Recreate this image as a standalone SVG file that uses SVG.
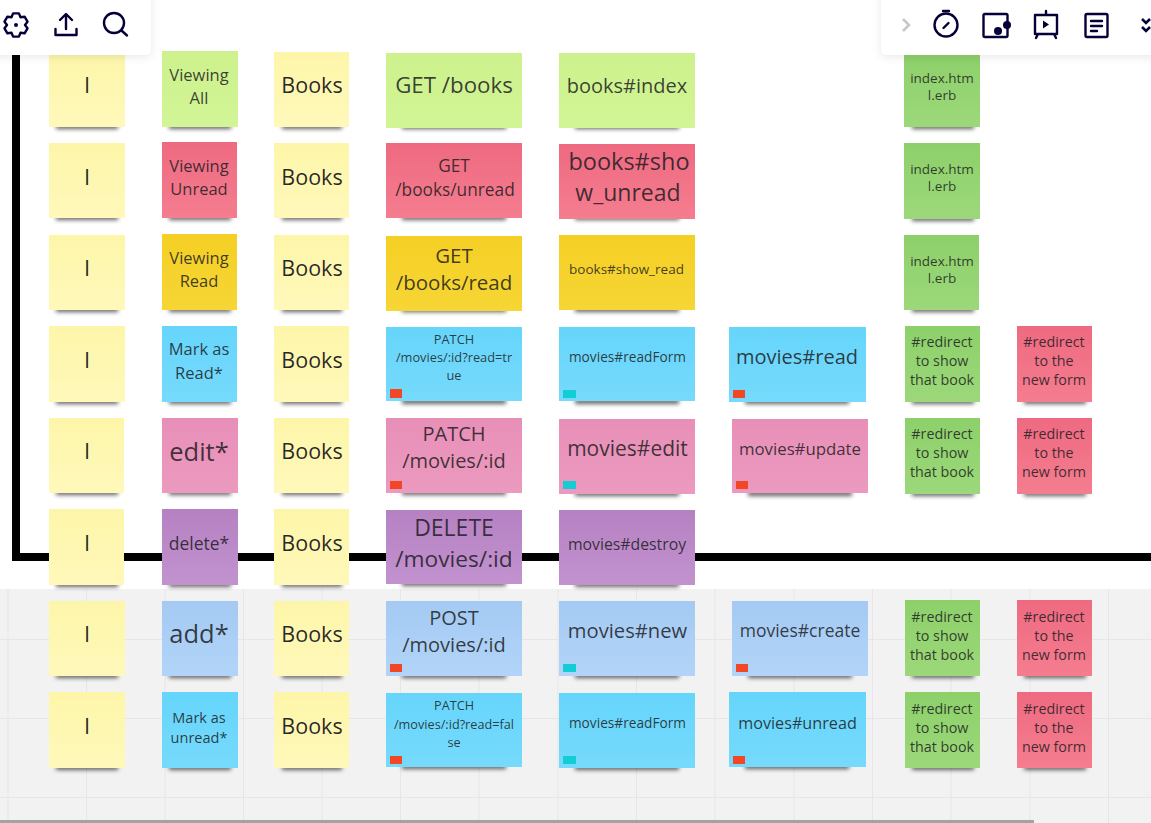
<svg xmlns="http://www.w3.org/2000/svg" width="1151" height="823" viewBox="0 0 1151 823">
<style>
text{font-family:"Open Sans","Noto Sans","DejaVu Sans",sans-serif;fill:#1a1a20;fill-opacity:.84;text-anchor:middle}
.d{fill-opacity:.95}
.sh{fill:#000;fill-opacity:.62;filter:url(#b)}
.y{fill:url(#gy)}.lg{fill:url(#glg)}.r{fill:url(#gr)}.o{fill:url(#go)}.c{fill:url(#gc)}.p{fill:url(#gp)}.v{fill:url(#gv)}.bl{fill:url(#gbl)}.g{fill:url(#gg)}
.rt{fill:#f24726}.tt{fill:#12cdd4}
.i{fill:none;stroke:#050038;stroke-width:2.4;stroke-linecap:round;stroke-linejoin:round}
.gl{stroke:#e6e6e6;stroke-width:1}
</style>
<defs>
<filter id="b" x="-20%" y="-300%" width="140%" height="700%"><feGaussianBlur stdDeviation="2"/></filter>
<filter id="ps" x="-10%" y="-30%" width="120%" height="170%"><feDropShadow dx="0" dy="2" stdDeviation="5" flood-color="#000" flood-opacity=".09"/></filter>
<linearGradient id="gy" x1="0" y1="0" x2="0" y2="1"><stop offset="0" stop-color="#fdf6a9"/><stop offset="1" stop-color="#fff8ba"/></linearGradient>
<linearGradient id="glg" x1="0" y1="0" x2="0" y2="1"><stop offset="0" stop-color="#cdf18c"/><stop offset="1" stop-color="#d2f596"/></linearGradient>
<linearGradient id="gr" x1="0" y1="0" x2="0" y2="1"><stop offset="0" stop-color="#ee6a80"/><stop offset="1" stop-color="#f57d90"/></linearGradient>
<linearGradient id="go" x1="0" y1="0" x2="0" y2="1"><stop offset="0" stop-color="#f5cf24"/><stop offset="1" stop-color="#f6d635"/></linearGradient>
<linearGradient id="gc" x1="0" y1="0" x2="0" y2="1"><stop offset="0" stop-color="#66d5fb"/><stop offset="1" stop-color="#76dafc"/></linearGradient>
<linearGradient id="gp" x1="0" y1="0" x2="0" y2="1"><stop offset="0" stop-color="#e88fb8"/><stop offset="1" stop-color="#ec9abf"/></linearGradient>
<linearGradient id="gv" x1="0" y1="0" x2="0" y2="1"><stop offset="0" stop-color="#b681c2"/><stop offset="1" stop-color="#c292cf"/></linearGradient>
<linearGradient id="gbl" x1="0" y1="0" x2="0" y2="1"><stop offset="0" stop-color="#a4caf3"/><stop offset="1" stop-color="#b2d4f8"/></linearGradient>
<linearGradient id="gg" x1="0" y1="0" x2="0" y2="1"><stop offset="0" stop-color="#8dd06a"/><stop offset="1" stop-color="#9cd87a"/></linearGradient>
</defs>

<rect width="1151" height="823" fill="#fff"/>
<g id="canvas-grid">
<rect x="0" y="589" width="1151" height="234" fill="#f2f2f2"/>
<path class="gl" d="M8 589V823M86.500 589V823M165 589V823M243.500 589V823M322 589V823M400.500 589V823M479 589V823M558 589V823M636.500 589V823M715 589V823M794 589V823M872.500 589V823M951 589V823M1030 589V823M1108.500 589V823M0 639.500H1151M0 718.500H1151M0 797.500H1151"/>
<rect x="0" y="820" width="1034" height="3" fill="#a3a3a3"/>
</g>
<g id="connectors">
<path d="M16 50V557H1151" fill="none" stroke="#000" stroke-width="8"/>
</g>

<g id="r1">
<g id="r1c1"><rect class="sh" x="56" y="124" width="62" height="5"/><rect class="y" x="49" y="52" width="76" height="75"/><text class="d" x="87" y="93" font-size="22">I</text></g>
<g id="r1c2"><rect class="sh" x="169" y="124" width="62" height="5"/><rect class="lg" x="162" y="51" width="76" height="76"/><text x="199" y="81" font-size="16.500">Viewing</text><text x="199" y="104" font-size="16.500">All</text></g>
<g id="r1c3"><rect class="sh" x="282" y="124" width="60" height="5"/><rect class="y" x="274" y="52" width="75" height="75"/><text class="d" x="312" y="93" font-size="21.500">Books</text></g>
<g id="r1c4"><rect class="sh" x="402" y="124" width="104" height="5"/><rect class="lg" x="386" y="53" width="136" height="75"/><text x="454" y="93" font-size="22.300">GET /books</text></g>
<g id="r1c5"><rect class="sh" x="575" y="124" width="104" height="5"/><rect class="lg" x="559" y="53" width="136" height="75"/><text x="627" y="93" font-size="20">books#index</text></g>
<g id="r1c7"><rect class="sh" x="912" y="124" width="62" height="5"/><rect class="g" x="904" y="52" width="76" height="75"/><text x="942" y="83" font-size="13.500">index.htm</text><text x="942" y="100" font-size="13.500">l.erb</text></g>
</g>

<g id="r2">
<g id="r2c1"><rect class="sh" x="56" y="215" width="62" height="5"/><rect class="y" x="49" y="143" width="76" height="75"/><text class="d" x="87" y="185" font-size="22">I</text></g>
<g id="r2c2"><rect class="sh" x="169" y="215" width="62" height="5"/><rect class="r" x="162" y="142" width="75" height="76"/><text x="199" y="172" font-size="16.500">Viewing</text><text x="199" y="195" font-size="16.500">Unread</text></g>
<g id="r2c3"><rect class="sh" x="282" y="215" width="60" height="5"/><rect class="y" x="274" y="143" width="75" height="75"/><text class="d" x="312" y="185" font-size="21.500">Books</text></g>
<g id="r2c4"><rect class="sh" x="402" y="215" width="104" height="5"/><rect class="r" x="386" y="143" width="136" height="75"/><text x="454" y="172" font-size="17.300">GET</text><text x="455" y="196" font-size="17.300">/books/unread</text></g>
<g id="r2c5"><rect class="sh" x="575" y="215" width="104" height="5"/><rect class="r" x="559" y="144" width="136" height="75"/><text x="629" y="170" font-size="23.500">books#sho</text><text x="628" y="201" font-size="23">w_unread</text></g>
<g id="r2c7"><rect class="sh" x="912" y="216" width="62" height="5"/><rect class="g" x="904" y="143" width="76" height="76"/><text x="942" y="174" font-size="13.500">index.htm</text><text x="942" y="191" font-size="13.500">l.erb</text></g>
</g>

<g id="r3">
<g id="r3c1"><rect class="sh" x="56" y="307" width="62" height="5"/><rect class="y" x="49" y="235" width="76" height="75"/><text class="d" x="87" y="276" font-size="22">I</text></g>
<g id="r3c2"><rect class="sh" x="169" y="307" width="62" height="5"/><rect class="o" x="162" y="234" width="75" height="76"/><text x="199" y="264" font-size="16.500">Viewing</text><text x="199" y="287" font-size="16.500">Read</text></g>
<g id="r3c3"><rect class="sh" x="282" y="307" width="60" height="5"/><rect class="y" x="274" y="235" width="75" height="75"/><text class="d" x="312" y="276" font-size="21.500">Books</text></g>
<g id="r3c4"><rect class="sh" x="402" y="307" width="104" height="5"/><rect class="o" x="386" y="236" width="136" height="75"/><text x="454" y="263" font-size="20.500">GET</text><text x="454" y="290" font-size="20.500">/books/read</text></g>
<g id="r3c5"><rect class="sh" x="575" y="307" width="104" height="5"/><rect class="o" x="559" y="235" width="136" height="75"/><text x="626.500" y="274" font-size="13.500">books#show_read</text></g>
<g id="r3c7"><rect class="sh" x="912" y="307" width="62" height="5"/><rect class="g" x="904" y="235" width="75" height="75"/><text x="942" y="266" font-size="13.500">index.htm</text><text x="942" y="283" font-size="13.500">l.erb</text></g>
</g>

<g id="r4">
<g id="r4c1"><rect class="sh" x="56" y="399" width="62" height="5"/><rect class="y" x="49" y="326" width="76" height="76"/><text class="d" x="87" y="368" font-size="22">I</text></g>
<g id="r4c2"><rect class="sh" x="169" y="399" width="62" height="5"/><rect class="c" x="162" y="326" width="75" height="76"/><text x="199" y="355" font-size="16.500">Mark as</text><text x="199" y="379" font-size="16.500">Read*</text></g>
<g id="r4c3"><rect class="sh" x="282" y="399" width="60" height="5"/><rect class="y" x="274" y="326" width="75" height="76"/><text class="d" x="312" y="368" font-size="21.500">Books</text></g>
<g id="r4c4"><rect class="sh" x="402" y="399" width="104" height="5"/><rect class="c" x="386" y="327" width="136" height="74"/><text x="454" y="344" font-size="12.800">PATCH</text><text x="454" y="362" font-size="12.800">/movies/:id?read=tr</text><text x="454" y="380" font-size="12.800">ue</text><rect class="rt" x="390" y="389" width="12" height="9"/></g>
<g id="r4c5"><rect class="sh" x="575" y="399" width="104" height="5"/><rect class="c" x="559" y="327" width="136" height="74"/><text x="627.500" y="362" font-size="13.700">movies#readForm</text><rect class="tt" x="563" y="390" width="13" height="8"/></g>
<g id="r4c6"><rect class="sh" x="745" y="399" width="104" height="5"/><rect class="c" x="729" y="327" width="137" height="75"/><text x="797" y="364" font-size="20">movies#read</text><rect class="rt" x="733" y="390" width="12" height="8"/></g>
<g id="r4c7"><rect class="sh" x="912" y="399" width="62" height="5"/><rect class="g" x="905" y="326" width="75" height="76"/><text x="942" y="347" font-size="14.300">#redirect</text><text x="942" y="366" font-size="14.300">to show</text><text x="942" y="385" font-size="14.300">that book</text></g>
<g id="r4c8"><rect class="sh" x="1024" y="399" width="62" height="5"/><rect class="r" x="1017" y="326" width="75" height="76"/><text x="1054" y="347" font-size="14.300">#redirect</text><text x="1054" y="366" font-size="14.300">to the</text><text x="1054" y="385" font-size="14.300">new form</text></g>
</g>

<g id="r5">
<g id="r5c1"><rect class="sh" x="56" y="490" width="62" height="5"/><rect class="y" x="49" y="418" width="75" height="75"/><text class="d" x="87" y="459" font-size="22">I</text></g>
<g id="r5c2"><rect class="sh" x="169" y="490" width="62" height="5"/><rect class="p" x="162" y="418" width="76" height="75"/><text x="199" y="461" font-size="25.500">edit*</text></g>
<g id="r5c3"><rect class="sh" x="282" y="490" width="60" height="5"/><rect class="y" x="274" y="418" width="75" height="75"/><text class="d" x="312" y="459" font-size="21.500">Books</text></g>
<g id="r5c4"><rect class="sh" x="402" y="490" width="104" height="5"/><rect class="p" x="386" y="418" width="136" height="75"/><text x="454" y="441" font-size="20">PATCH</text><text x="454" y="468" font-size="20">/movies/:id</text><rect class="rt" x="390" y="481" width="12" height="8"/></g>
<g id="r5c5"><rect class="sh" x="575" y="491" width="104" height="5"/><rect class="p" x="559" y="419" width="136" height="75"/><text x="627.500" y="456" font-size="21">movies#edit</text><rect class="tt" x="563" y="481" width="13" height="8"/></g>
<g id="r5c6"><rect class="sh" x="748" y="491" width="104" height="5"/><rect class="p" x="732" y="419" width="136" height="74"/><text x="800" y="455" font-size="16.800">movies#update</text><rect class="rt" x="736" y="481" width="12" height="8"/></g>
<g id="r5c7"><rect class="sh" x="912" y="491" width="62" height="5"/><rect class="g" x="905" y="418" width="75" height="76"/><text x="942" y="439" font-size="14.300">#redirect</text><text x="942" y="458" font-size="14.300">to show</text><text x="942" y="477" font-size="14.300">that book</text></g>
<g id="r5c8"><rect class="sh" x="1024" y="491" width="62" height="5"/><rect class="r" x="1017" y="418" width="75" height="76"/><text x="1054" y="439" font-size="14.300">#redirect</text><text x="1054" y="458" font-size="14.300">to the</text><text x="1054" y="477" font-size="14.300">new form</text></g>
</g>

<g id="r6">
<g id="r6c1"><rect class="sh" x="56" y="582" width="62" height="5"/><rect class="y" x="49" y="509" width="75" height="76"/><text class="d" x="87" y="551" font-size="22">I</text></g>
<g id="r6c2"><rect class="sh" x="169" y="582" width="62" height="5"/><rect class="v" x="162" y="509" width="76" height="76"/><text x="199" y="550" font-size="17.500">delete*</text></g>
<g id="r6c3"><rect class="sh" x="282" y="582" width="60" height="5"/><rect class="y" x="274" y="509" width="75" height="76"/><text class="d" x="312" y="551" font-size="21.500">Books</text></g>
<g id="r6c4"><rect class="sh" x="402" y="581" width="104" height="5"/><rect class="v" x="386" y="510" width="136" height="74"/><text x="454" y="536" font-size="23">DELETE</text><text x="454" y="567" font-size="22.700">/movies/:id</text></g>
<g id="r6c5"><rect class="sh" x="575" y="582" width="104" height="5"/><rect class="v" x="559" y="510" width="136" height="75"/><text x="627" y="550" font-size="15.800">movies#destroy</text></g>
</g>

<g id="r7">
<g id="r7c1"><rect class="sh" x="56" y="673" width="62" height="5"/><rect class="y" x="49" y="601" width="76" height="75"/><text class="d" x="87" y="642" font-size="22">I</text></g>
<g id="r7c2"><rect class="sh" x="169" y="673" width="62" height="5"/><rect class="bl" x="162" y="601" width="76" height="75"/><text x="199" y="643" font-size="25.500">add*</text></g>
<g id="r7c3"><rect class="sh" x="282" y="673" width="60" height="5"/><rect class="y" x="274" y="601" width="75" height="75"/><text class="d" x="312" y="642" font-size="21.500">Books</text></g>
<g id="r7c4"><rect class="sh" x="402" y="673" width="104" height="5"/><rect class="bl" x="386" y="601" width="136" height="75"/><text x="454" y="625" font-size="20">POST</text><text x="454" y="652" font-size="20">/movies/:id</text><rect class="rt" x="390" y="664" width="12" height="8"/></g>
<g id="r7c5"><rect class="sh" x="575" y="673" width="104" height="5"/><rect class="bl" x="559" y="601" width="136" height="75"/><text x="627.500" y="638" font-size="20.200">movies#new</text><rect class="tt" x="563" y="664" width="13" height="8"/></g>
<g id="r7c6"><rect class="sh" x="748" y="673" width="104" height="5"/><rect class="bl" x="732" y="601" width="136" height="75"/><text x="800" y="637" font-size="17.500">movies#create</text><rect class="rt" x="736" y="664" width="12" height="8"/></g>
<g id="r7c7"><rect class="sh" x="912" y="673" width="62" height="5"/><rect class="g" x="905" y="600" width="75" height="76"/><text x="942" y="622" font-size="14.300">#redirect</text><text x="942" y="641" font-size="14.300">to show</text><text x="942" y="660" font-size="14.300">that book</text></g>
<g id="r7c8"><rect class="sh" x="1024" y="673" width="62" height="5"/><rect class="r" x="1017" y="600" width="75" height="76"/><text x="1054" y="622" font-size="14.300">#redirect</text><text x="1054" y="641" font-size="14.300">to the</text><text x="1054" y="660" font-size="14.300">new form</text></g>
</g>

<g id="r8">
<g id="r8c1"><rect class="sh" x="56" y="765" width="62" height="5"/><rect class="y" x="49" y="692" width="76" height="76"/><text class="d" x="87" y="734" font-size="22">I</text></g>
<g id="r8c2"><rect class="sh" x="169" y="765" width="62" height="5"/><rect class="c" x="162" y="692" width="76" height="76"/><text x="199" y="723" font-size="14.500">Mark as</text><text x="199" y="743" font-size="14.500">unread*</text></g>
<g id="r8c3"><rect class="sh" x="282" y="765" width="60" height="5"/><rect class="y" x="274" y="692" width="75" height="76"/><text class="d" x="312" y="734" font-size="21.500">Books</text></g>
<g id="r8c4"><rect class="sh" x="402" y="764" width="104" height="5"/><rect class="c" x="386" y="693" width="136" height="74"/><text x="454" y="710" font-size="12.700">PATCH</text><text x="454" y="729" font-size="12.700">/movies/:id?read=fal</text><text x="454" y="747" font-size="12.700">se</text><rect class="rt" x="390" y="756" width="12" height="8"/></g>
<g id="r8c5"><rect class="sh" x="575" y="765" width="104" height="5"/><rect class="c" x="559" y="693" width="136" height="75"/><text x="627.500" y="728" font-size="13.700">movies#readForm</text><rect class="tt" x="563" y="756" width="13" height="8"/></g>
<g id="r8c6"><rect class="sh" x="745" y="764" width="104" height="5"/><rect class="c" x="729" y="692" width="137" height="75"/><text x="797.500" y="729" font-size="16.200">movies#unread</text><rect class="rt" x="733" y="756" width="12" height="8"/></g>
<g id="r8c7"><rect class="sh" x="912" y="765" width="62" height="5"/><rect class="g" x="905" y="692" width="75" height="76"/><text x="942" y="714" font-size="14.300">#redirect</text><text x="942" y="733" font-size="14.300">to show</text><text x="942" y="752" font-size="14.300">that book</text></g>
<g id="r8c8"><rect class="sh" x="1024" y="765" width="62" height="5"/><rect class="r" x="1017" y="692" width="75" height="76"/><text x="1054" y="714" font-size="14.300">#redirect</text><text x="1054" y="733" font-size="14.300">to the</text><text x="1054" y="752" font-size="14.300">new form</text></g>
</g>

<g id="toolbar-left">
<path d="M-10 -10H151V49a6 6 0 0 1-6 6H-10Z" fill="#fff" filter="url(#ps)"/>
<path class="i" d="M18.900 13.400H13.100L11.500 17.200 7.400 16.700 4.500 21.700 7 25 4.500 28.300 7.400 33.300 11.500 32.800 13.100 36.600H18.900L20.500 32.800 24.600 33.300 27.500 28.300 25 25 27.500 21.700 24.600 16.700 20.500 17.200Z"/>
<circle cx="16" cy="25" r="2" fill="#050038"/>
<path class="i" d="M66 29V15M60 20l6-6 6 6M55.500 29v6h21v-6"/>
<circle class="i" cx="114" cy="23" r="10"/><path class="i" d="M121.500 30.500l5.500 5"/>
</g>
<g id="toolbar-right">
<path d="M1161 -10H881V49a6 6 0 0 0 6 6H1161Z" fill="#fff" filter="url(#ps)"/>
<path d="M903 19l6 6-6 6" fill="none" stroke="#c8c8cc" stroke-width="2.600"/>
<circle class="i" cx="946" cy="25" r="11.500"/><path class="i" d="M943 11h6M943.500 28l5-5"/>
<path class="i" d="M985 14h21a1.500 1.500 0 0 1 1.500 1.500v20a1.500 1.500 0 0 1-1.500 1.500h-21a1.500 1.500 0 0 1-1.500-1.500v-20a1.500 1.500 0 0 1 1.500-1.500z"/>
<circle cx="998" cy="31" r="4" fill="#050038"/><circle cx="1007" cy="25" r="4" fill="#050038"/>
<path class="i" d="M1035 15h22v19h-22zM1046 11v4M1038 34l-2 4M1054 34l2 4"/><path d="M1043 20.500l6 4-6 4z" fill="#050038"/>
<path class="i" d="M1087 14h19a1.500 1.500 0 0 1 1.500 1.500v20a1.500 1.500 0 0 1-1.500 1.500h-19a1.500 1.500 0 0 1-1.500-1.500v-20a1.500 1.500 0 0 1 1.500-1.500zM1091 21h11M1091 26h11M1091 31h6"/>
<path d="M1142 19l4 4 4-4M1142 27l4 4 4-4" fill="none" stroke="#050038" stroke-width="2.600"/>
</g>
</svg>
